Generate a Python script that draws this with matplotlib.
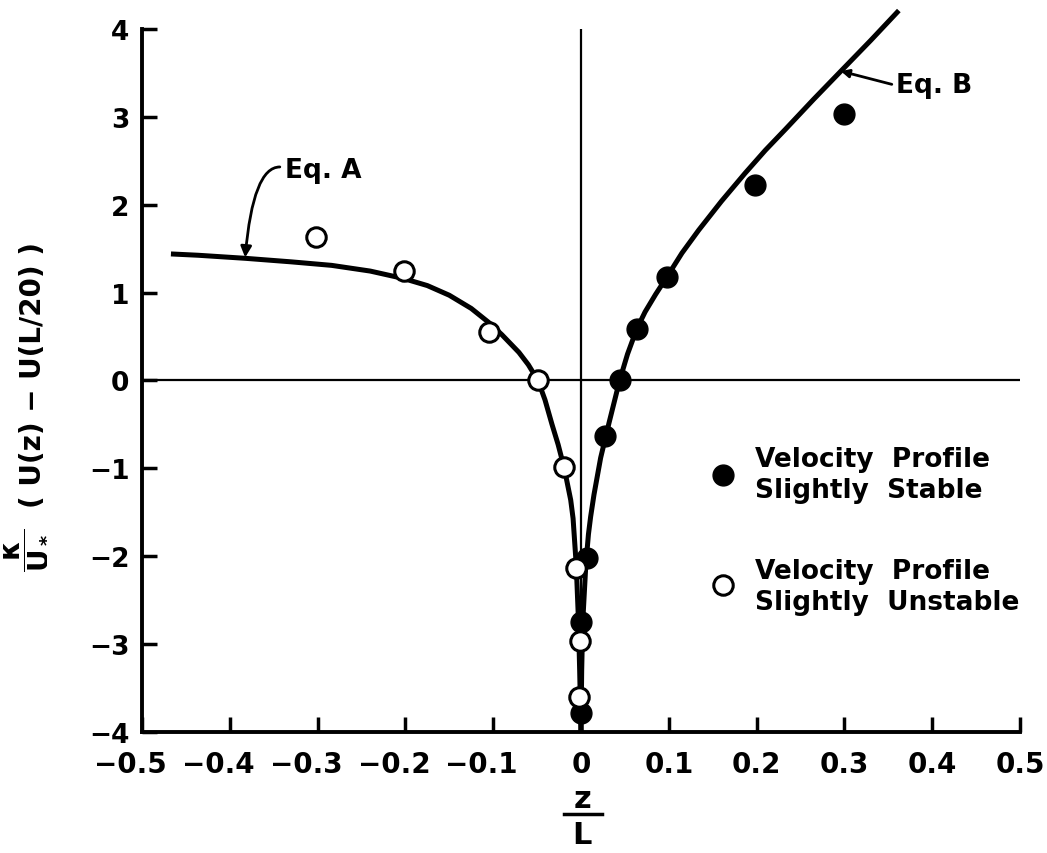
import numpy as np
import matplotlib.pyplot as plt
from matplotlib.lines import Line2D
from matplotlib.transforms import ScaledTranslation

plt.rcParams['font.family'] = 'DejaVu Sans'
plt.rcParams['font.weight'] = 'bold'
plt.rcParams['mathtext.fontset'] = 'custom'
plt.rcParams['mathtext.rm'] = 'DejaVu Sans:bold'
plt.rcParams['mathtext.bf'] = 'DejaVu Sans:bold'
plt.rcParams['mathtext.it'] = 'DejaVu Sans:bold'

# Eq. A curve (unstable side)
eqA_x = [-0.467, -0.436, -0.382, -0.33, -0.284, -0.24, -0.202, -0.175, -0.150, -0.125, -0.105,
         -0.09, -0.0707, -0.06, -0.049, -0.041, -0.033, -0.026, -0.019, -0.0117, -0.009,
         -0.0054, -0.003, -0.0015, 0.0]
eqA_y = [1.44, 1.425, 1.39, 1.35, 1.31, 1.245, 1.16, 1.08, 0.97, 0.82, 0.66,
         0.52, 0.32, 0.18, 0.0, -0.22, -0.5, -0.73, -1.0, -1.36, -1.57,
         -2.1, -2.7, -3.3, -4.0]

# Eq. B curve (stable side)
eqB_x = [0.0, 0.0008, 0.002, 0.0055, 0.0085, 0.011, 0.0148, 0.0224, 0.032, 0.044, 0.053,
         0.0635, 0.073, 0.085, 0.098, 0.115, 0.134, 0.16, 0.187, 0.21, 0.233, 0.265,
         0.296, 0.33, 0.362]
eqB_y = [-4.0, -3.3, -2.75, -2.1, -1.75, -1.55, -1.3, -0.88, -0.48, 0.0, 0.3,
         0.586, 0.78, 0.98, 1.18, 1.45, 1.71, 2.04, 2.36, 2.62, 2.86, 3.2,
         3.52, 3.87, 4.21]

# measured points
stable_x = [0.300, 0.198, 0.098, 0.0635, 0.044, 0.0274, 0.0072, 0.0003, 0.0003]
stable_y = [3.03, 2.23, 1.18, 0.586, 0.0, -0.632, -2.02, -2.75, -3.78]
unstable_x = [-0.302, -0.202, -0.105, -0.049, -0.0194, -0.0054, -0.0015, -0.002]
unstable_y = [1.63, 1.25, 0.55, 0.0, -0.983, -2.13, -2.97, -3.60]

xticks = [-0.5, -0.4, -0.3, -0.2, -0.1, 0, 0.1, 0.2, 0.3, 0.4, 0.5]
xticklabels = ['−0.5', '−0.4', '−0.3', '−0.2', '−0.1', '0', '0.1', '0.2', '0.3', '0.4', '0.5']
yticks = [-4, -3, -2, -1, 0, 1, 2, 3, 4]
yticklabels = ['−4', '−3', '−2', '−1', '0', '1', '2', '3', '4']

fig = plt.figure(figsize=(10.47, 8.54), dpi=100)
ax = fig.add_axes([0.1356, 0.1417, 0.8386, 0.8232])

ax.set_xlim(-0.5, 0.5)
ax.set_ylim(-4, 4)

ax.axhline(0, color='k', lw=1.6, zorder=1)
ax.axvline(0, color='k', lw=1.6, zorder=1)

ax.plot(eqA_x, eqA_y, color='k', lw=3.6, solid_capstyle='butt', zorder=2, clip_on=False)
ax.plot(eqB_x, eqB_y, color='k', lw=3.6, solid_capstyle='butt', zorder=2, clip_on=False)

ax.plot(stable_x, stable_y, 'o', ms=15, color='k', zorder=3, clip_on=False)
ax.plot(unstable_x, unstable_y, 'o', ms=14, mfc='white', mec='k', mew=2.2, zorder=4, clip_on=False)

# legend drawn by hand
ax.plot([0.162], [-1.07], 'o', ms=15, color='k')
ax.plot([0.162], [-2.33], 'o', ms=14, mfc='white', mec='k', mew=2.2)
ax.text(0.198, -1.07, 'Velocity  Profile\nSlightly  Stable', fontsize=19, va='center', ha='left',
        linespacing=1.25)
ax.text(0.198, -2.35, 'Velocity  Profile\nSlightly  Unstable', fontsize=19, va='center', ha='left',
        linespacing=1.25)

# equation labels
ax.text(-0.337, 2.40, 'Eq. A', fontsize=19, va='center', ha='left')
ax.annotate('', xy=(-0.3825, 1.40), xytext=(-0.343, 2.43),
            arrowprops=dict(arrowstyle='-|>', connectionstyle='angle3,angleA=180,angleB=85',
                            lw=2, color='k', mutation_scale=16, shrinkA=0, shrinkB=0))
ax.text(0.359, 3.36, 'Eq. B', fontsize=19, va='center', ha='left')
ax.annotate('', xy=(0.296, 3.52), xytext=(0.354, 3.37),
            arrowprops=dict(arrowstyle='-|>', lw=2, color='k', mutation_scale=12,
                            shrinkA=0, shrinkB=0))

for s in ['top', 'right']:
    ax.spines[s].set_visible(False)
for s in ['left', 'bottom']:
    ax.spines[s].set_linewidth(2.8)

ax.set_xticks(xticks)
ax.set_xticklabels(xticklabels)
ax.set_yticks(yticks)
ax.set_yticklabels(yticklabels)
ax.tick_params(direction='in', length=11, width=2.5)
ax.tick_params(axis='x', labelsize=20, pad=13)
ax.tick_params(axis='y', labelsize=19, pad=9)

# negative x labels: keep the number centred on the tick, minus hangs left
shift = ScaledTranslation(-0.115, 0, fig.dpi_scale_trans)
for lbl in ax.get_xticklabels():
    if lbl.get_text().startswith('−'):
        lbl.set_transform(lbl.get_transform() + shift)

# y label: kappa / U* fraction, then the difference
fig.text(0.023, 0.356, r'$\mathbf{\dfrac{\kappa}{U_*}}$', fontsize=20, rotation=90,
         ha='center', va='center')
fig.text(0.0315, 0.561, '( U(z) − U(L/20) )', fontsize=20, rotation=90,
         ha='center', va='center')

# x label: z over L
fig.text(0.556, 0.064, 'z', fontsize=22, ha='center', va='center')
fig.text(0.556, 0.022, 'L', fontsize=22, ha='center', va='center')
fig.add_artist(Line2D([0.539, 0.575], [0.046, 0.046], color='k', lw=2.5))

fig.savefig('out.png', dpi=100)
